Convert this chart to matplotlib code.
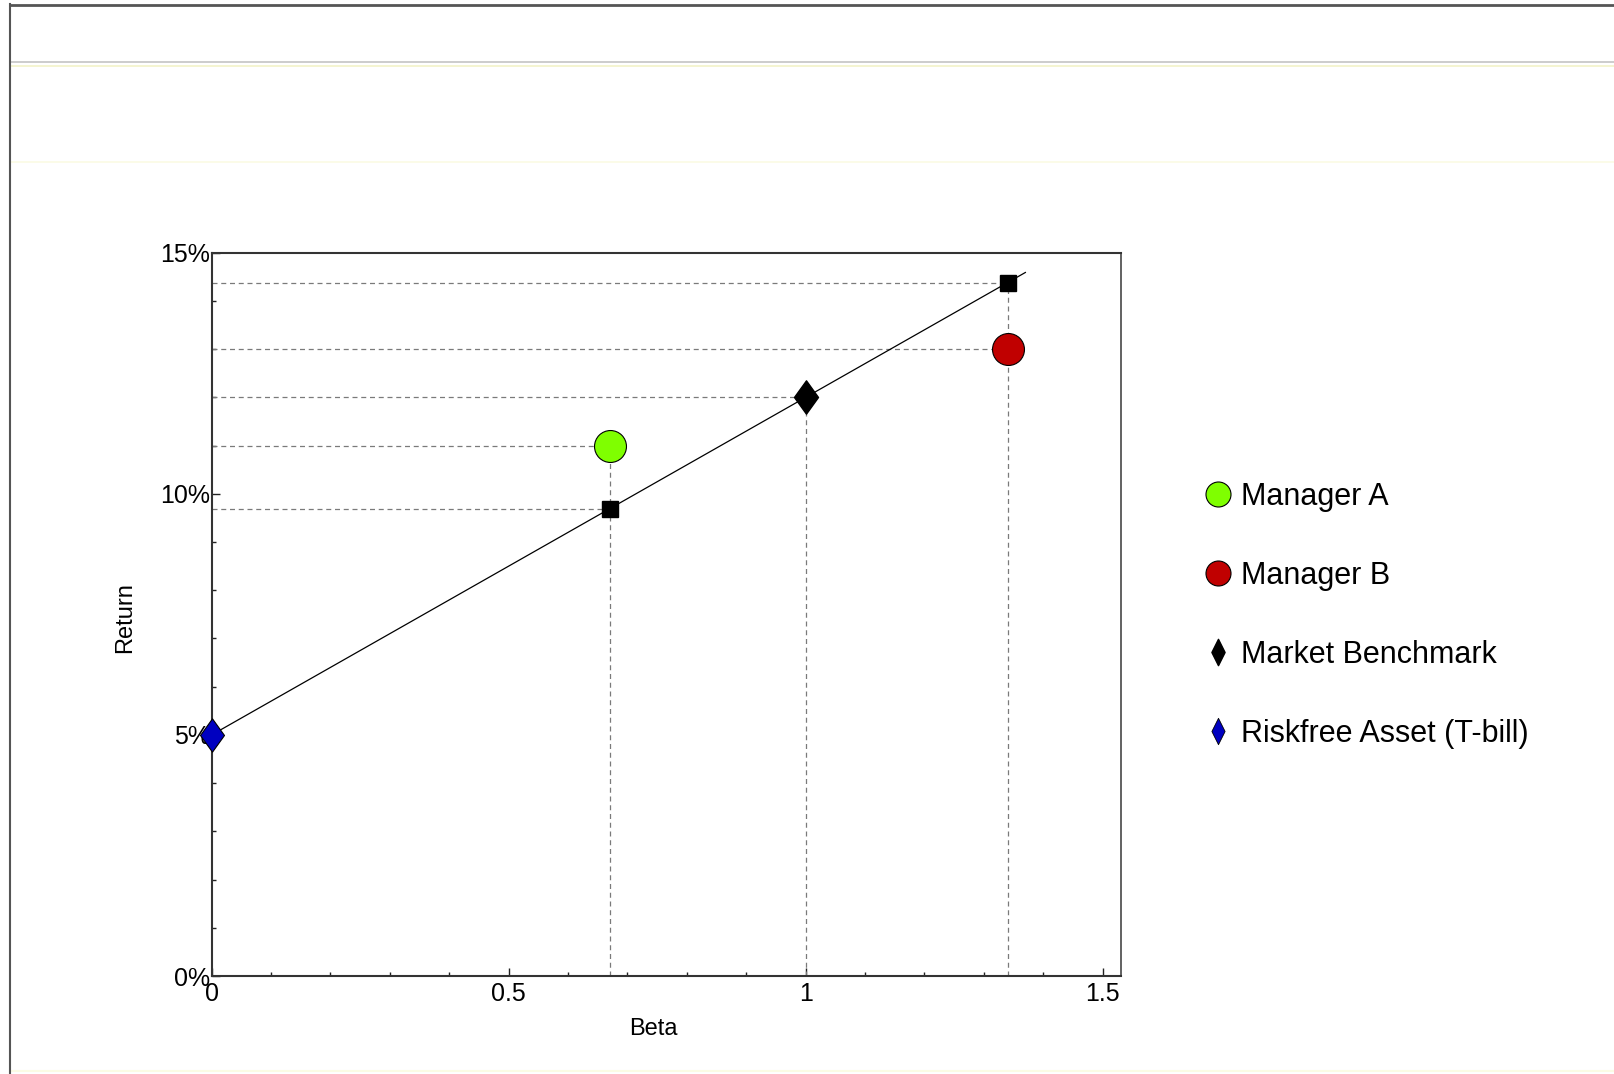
import numpy as np
import matplotlib
matplotlib.use("Agg")
import matplotlib.pyplot as plt
from matplotlib.lines import Line2D
from matplotlib.path import Path
from matplotlib.ticker import MultipleLocator, FuncFormatter

plt.rcParams['font.family'] = ['Liberation Sans', 'DejaVu Sans']

# portfolio data (beta, return in %)
rf_beta, rf_return = 0.0, 5.0
mkt_beta, mkt_return = 1.0, 12.0
manager_names = ["Manager A", "Manager B"]
manager_beta = [0.67, 1.34]
manager_return = [11.0, 13.0]
manager_colors = ["#7fff00", "#c00000"]
# required returns on the SML at the managers' betas
sml_point_beta = [0.67, 1.34]
sml_point_return = [9.69, 14.38]
# security market line end points
sml_beta = [0.0, 1.37]
sml_return = [5.0, 14.59]

legend_labels = ["Manager A", "Manager B", "Market Benchmark", "Riskfree Asset (T-bill)"]

W, H = 1615, 1074
fig = plt.figure(figsize=(W / 100, H / 100), dpi=100)

# window frame lines
def hline(y, x0, x1, color, lw):
    fig.add_artist(Line2D([x0 / W, x1 / W], [1 - y / H, 1 - y / H],
                          transform=fig.transFigure, color=color, lw=lw))

hline(4.5, 10, W, "#555555", 2.0)
hline(62, 10, W, "#c8c8c8", 1.3)
hline(65.5, 10, W, "#f2f2c8", 1.2)
hline(162, 10, W, "#fbfbe4", 1.2)
hline(1071, 10, W, "#fbfbe4", 1.5)
fig.add_artist(Line2D([10 / W, 10 / W], [0, 1 - 4 / H], transform=fig.transFigure,
                      color="#555555", lw=1.5))

ax = fig.add_axes([211.7 / W, 1 - 976 / H, 909.3 / W, 723.3 / H])

# narrow diamond markers
def diamond(width):
    return Path([(0, 1), (width, 0), (0, -1), (-width, 0), (0, 1)],
                [Path.MOVETO, Path.LINETO, Path.LINETO, Path.LINETO, Path.CLOSEPOLY])

thin_diamond = diamond(0.72)
legend_diamond = diamond(0.5)

dash = dict(color="#7a7a7a", lw=0.9, linestyle=(0, (4, 3)), zorder=2)

# guide lines from each point back to the axes
for b, r in zip(sml_point_beta, sml_point_return):
    ax.plot([0, b], [r, r], **dash)
for b, r in zip(manager_beta, manager_return):
    ax.plot([0, b], [r, r], **dash)
ax.plot([0, mkt_beta], [mkt_return, mkt_return], **dash)
ax.plot([manager_beta[0], manager_beta[0]], [0, manager_return[0]], **dash)
ax.plot([mkt_beta, mkt_beta], [0, mkt_return], **dash)
ax.plot([sml_point_beta[1], sml_point_beta[1]], [0, sml_point_return[1]], **dash)

# security market line
ax.plot(sml_beta, sml_return, color="black", lw=0.9, zorder=3)

ax.plot(sml_point_beta, sml_point_return, linestyle="none", marker="s", ms=11,
        color="black", zorder=4)
for b, r, c in zip(manager_beta, manager_return, manager_colors):
    ax.plot(b, r, linestyle="none", marker="o", ms=23, markerfacecolor=c,
            markeredgecolor="black", markeredgewidth=0.8, zorder=4)
ax.plot(mkt_beta, mkt_return, linestyle="none", marker=thin_diamond, ms=24,
        color="black", zorder=5)
ax.plot(rf_beta, rf_return, linestyle="none", marker=thin_diamond, ms=24,
        markerfacecolor="#0000c0", markeredgecolor="black", markeredgewidth=0.8,
        zorder=5, clip_on=False)

ax.set_xlim(0, 1.531)
ax.set_ylim(0, 15)
ax.xaxis.set_major_locator(MultipleLocator(0.5))
ax.xaxis.set_minor_locator(MultipleLocator(0.1))
ax.yaxis.set_major_locator(MultipleLocator(5))
ax.yaxis.set_minor_locator(MultipleLocator(1))
ax.xaxis.set_major_formatter(FuncFormatter(lambda v, p: f"{v:g}"))
ax.yaxis.set_major_formatter(FuncFormatter(lambda v, p: f"{v:g}%"))
ax.tick_params(which="both", direction="in", top=False, right=False,
               labelsize=18, color="#222222")
ax.tick_params(which="major", length=6, width=1.0)
ax.tick_params(which="minor", length=3, width=1.0)
ax.tick_params(axis="y", pad=1)
ax.tick_params(axis="x", pad=4)

for s in ["left", "bottom", "top"]:
    ax.spines[s].set_color("#333333")
    ax.spines[s].set_linewidth(1.5)
ax.spines["right"].set_color("#555555")
ax.spines["right"].set_linewidth(1.3)

ax.set_xlabel("Beta", fontsize=17)
ax.set_ylabel("Return", fontsize=17)
ax.xaxis.set_label_coords(0.486, -0.058)
ax.yaxis.set_label_coords(-0.083, 0.496)

handles = [
    Line2D([], [], linestyle="none", marker="o", ms=18, markerfacecolor=manager_colors[0],
           markeredgecolor="black", markeredgewidth=0.8),
    Line2D([], [], linestyle="none", marker="o", ms=18, markerfacecolor=manager_colors[1],
           markeredgecolor="black", markeredgewidth=0.8),
    Line2D([], [], linestyle="none", marker=legend_diamond, ms=19, markerfacecolor="black",
           markeredgecolor="black"),
    Line2D([], [], linestyle="none", marker=legend_diamond, ms=19, markerfacecolor="#0000c0",
           markeredgecolor="black", markeredgewidth=0.6),
]
fig.legend(handles, legend_labels, loc="upper left",
           bbox_to_anchor=(1203 / W, 1 - 482 / H), frameon=False, fontsize=22,
           borderpad=0, borderaxespad=0, handlelength=1.0, handletextpad=0.25,
           labelspacing=1.6)

fig.savefig("out.png", dpi=100)
